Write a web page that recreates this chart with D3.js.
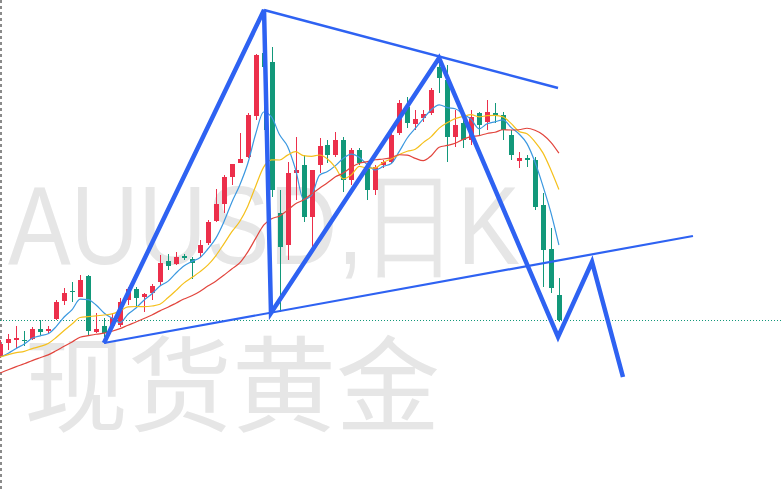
<!DOCTYPE html>
<html>
<head>
<meta charset="utf-8">
<script src="https://cdn.jsdelivr.net/npm/d3@7"></script>
<style>
html,body{margin:0;padding:0;background:#fff;overflow:hidden;}
svg{display:block;}
</style>
</head>
<body>
<svg id="chart" width="783" height="491"></svg>
<script>
// ---- data (daily candles, price units) ----
const opens  = [2344,2357,2360,2360,2361,2371,2369,2381,2399,2409,2403,2424,2368,2374,2374,2375,2400,2411,2403,2407,2418,2439,2436,2444,2441,2447,2457,2479,2496,2523,2537,2543,2584,2647,2638,2487,2455,2527,2535,2483,2535,2555,2545,2560,2520,2550,2533,2510,2535,2538,2567,2593,2576,2582,2587,2633,2620,2563,2577,2560,2587,2578,2587,2585,2565,2539,2542,2540,2495,2451,2405];
const highs  = [2360,2366,2374,2369,2373,2380,2374,2400,2412,2418,2425,2425,2387,2382,2387,2402,2413,2413,2407,2416,2445,2446,2448,2446,2443,2460,2480,2511,2525,2536,2567,2587,2646,2655,2653,2510,2538,2563,2545,2530,2562,2560,2568,2563,2552,2552,2535,2535,2540,2567,2600,2603,2590,2590,2612,2640,2635,2590,2585,2590,2588,2600,2597,2588,2570,2548,2545,2543,2507,2472,2422];
const lows   = [2342,2350,2352,2354,2360,2365,2366,2380,2395,2398,2403,2365,2367,2363,2372,2373,2395,2392,2388,2400,2415,2430,2435,2440,2421,2443,2455,2478,2487,2515,2537,2542,2580,2570,2503,2388,2440,2500,2478,2450,2527,2537,2543,2508,2515,2535,2500,2505,2532,2537,2565,2572,2570,2578,2585,2607,2538,2553,2552,2555,2565,2570,2577,2560,2540,2532,2533,2490,2413,2407,2378];
const closes = [2356,2361,2362,2359,2371,2368,2371,2398,2407,2408,2420,2369,2371,2367,2382,2398,2411,2402,2406,2414,2437,2434,2443,2442,2437,2455,2478,2496,2523,2536,2541,2585,2645,2633,2510,2453,2527,2530,2483,2530,2554,2545,2560,2520,2550,2537,2510,2533,2538,2565,2597,2577,2581,2586,2610,2622,2563,2575,2560,2583,2575,2588,2585,2570,2545,2542,2540,2493,2450,2412,2380];
// closes before the visible window (used only for the moving averages)
const priorCloses = [2295,2300,2302,2308,2310,2314,2316,2318,2322,2325,2338,2342,2345,2344,2346,2342,2338,2337,2342];
const maPeriods = [5, 10, 20];
const watermarkSymbol = "AUUSD,日K";
const watermarkName = "现货黄金";
// hand-drawn pattern annotations: [candle index, price]
const zigzag = [[12.99,2357],[33.05,2690],[33.92,2387],[54.98,2642],[69.89,2363],[74.15,2438],[78.03,2323]];
const upperTrend = [[33.05,2690],[69.89,2612]];
const lowerTrend = [[12.99,2357],[86.8,2464]];

// ---- drawing ----
const W = 783, H = 491;
const svg = d3.select("#chart");
const x = d3.scaleLinear().domain([0, 70]).range([0.3, 0.3 + 70 * 7.98]);
const y = d3.scaleLinear().domain([2209, 2700]).range([H, 0]);

const UP = "#ec2f4b", DOWN = "#12987a";
const maColors = ["#3b98e0", "#f5c01c", "#e2453d"];

// watermark
svg.append("text").attr("x", 8).attr("y", 264)
  .attr("font-family", "Liberation Sans, Arial, sans-serif")
  .attr("font-size", 112).attr("fill", "#e6e6e6")
  .attr("textLength", 512).attr("lengthAdjust", "spacingAndGlyphs")
  .text(watermarkSymbol);
svg.append("text").attr("x", 24).attr("y", 424)
  .attr("font-family", "Noto Sans CJK SC, sans-serif")
  .attr("font-size", 104).attr("fill", "#e6e6e6")
  .text(watermarkName);

// left dashed border
svg.append("line").attr("x1", 1).attr("x2", 1).attr("y1", 0).attr("y2", H)
  .attr("stroke", "#666").attr("stroke-width", 1.5).attr("stroke-dasharray", "3,3");

// last price dotted line
svg.append("line").attr("x1", 0).attr("x2", W)
  .attr("y1", Math.round(y(closes[closes.length - 1])) + 0.5)
  .attr("y2", Math.round(y(closes[closes.length - 1])) + 0.5)
  .attr("stroke", DOWN).attr("stroke-width", 1).attr("stroke-dasharray", "1,2");

// candles
const idx = d3.range(closes.length);
const g = svg.append("g");
g.selectAll("line.wick").data(idx).join("line")
  .attr("x1", i => Math.round(x(i)) + 0.5).attr("x2", i => Math.round(x(i)) + 0.5)
  .attr("y1", i => y(highs[i])).attr("y2", i => y(lows[i]))
  .attr("stroke", i => closes[i] >= opens[i] ? UP : DOWN).attr("stroke-width", 1);
g.selectAll("rect.body").data(idx).join("rect")
  .attr("x", i => Math.round(x(i)) - 2)
  .attr("width", 5)
  .attr("y", i => y(Math.max(opens[i], closes[i])))
  .attr("height", i => Math.max(1, Math.abs(y(opens[i]) - y(closes[i]))))
  .attr("fill", i => closes[i] >= opens[i] ? UP : DOWN);

// moving averages
const all = priorCloses.concat(closes);
const off = priorCloses.length;
maPeriods.forEach((p, k) => {
  const pts = idx.map(i => {
    const j = i + off;
    return [i, d3.mean(all.slice(j - p + 1, j + 1))];
  });
  svg.append("path").datum(pts)
    .attr("fill", "none").attr("stroke", maColors[k]).attr("stroke-width", 1.2)
    .attr("d", d3.line().x(d => x(d[0])).y(d => y(d[1])).curve(d3.curveMonotoneX));
});

// annotations
const ann = d3.line().x(d => x(d[0])).y(d => y(d[1]));
const BLUE = "#2e62f2";
svg.append("path").datum(upperTrend).attr("d", ann).attr("fill", "none")
  .attr("stroke", BLUE).attr("stroke-width", 2.4);
svg.append("path").datum(lowerTrend).attr("d", ann).attr("fill", "none")
  .attr("stroke", BLUE).attr("stroke-width", 2.2);
svg.append("path").datum(zigzag).attr("d", ann).attr("fill", "none")
  .attr("stroke", BLUE).attr("stroke-width", 4.5).attr("stroke-linejoin", "miter");
</script>
</body>
</html>
